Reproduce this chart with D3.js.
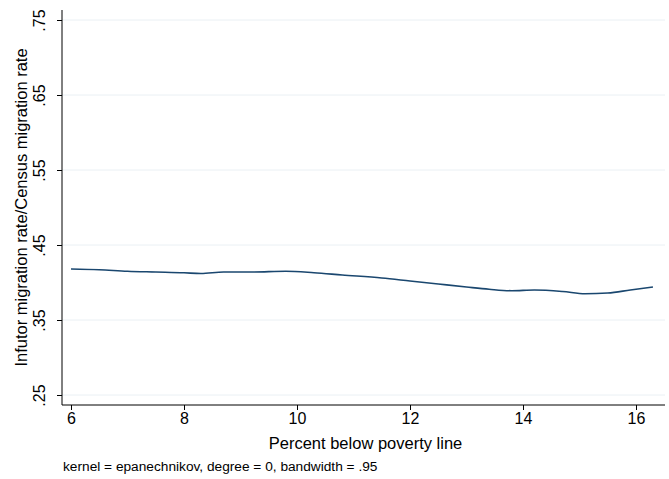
<!DOCTYPE html>
<html><head><meta charset="utf-8">
<script src="https://cdn.jsdelivr.net/npm/d3@7"></script>
<style>body{margin:0;background:#fff;font-family:"Liberation Sans",Arial,sans-serif}</style>
</head><body><div id="chart"></div>
<script>
var xVals = [6, 6.5, 7, 7.5, 8, 8.3, 8.7, 9.2, 9.8, 10.3, 10.8, 11.5, 12, 12.5, 13, 13.4, 13.8, 14.2, 14.7, 15.1, 15.5, 15.9, 16.3];
var yVals = [.418, .417, .415, .414, .413, .412, .414, .414, .415, .413, .410, .406, .402, .398, .394, .391, .389, .390, .388, .385, .386, .390, .394];
var xTicks = [6, 8, 10, 12, 14, 16];
var yTicks = [.25, .35, .45, .55, .65, .75];

var svgW = 669, svgH = 479;
var margin = {top: 10, right: 4, bottom: 74, left: 62};

var svg = d3.select("#chart").append("svg").attr("width", svgW).attr("height", svgH);

var x = d3.scaleLinear().domain([6, 16]).range([71, 636]);
var y = d3.scaleLinear().domain([.25, .75]).range([395, 20]);

// gridlines
svg.append("g").selectAll("line").data(yTicks).enter().append("line")
  .attr("x1", margin.left).attr("x2", svgW - margin.right)
  .attr("y1", d => y(d)).attr("y2", d => y(d))
  .attr("stroke", "#eaf0f4").attr("stroke-width", 1);

var yAxis = svg.append("g").attr("transform", `translate(${margin.left},0)`)
  .call(d3.axisLeft(y).tickValues(yTicks).tickFormat(d => d3.format(".2f")(d).replace(/^0/, "")).tickSize(5).tickSizeOuter(0));
yAxis.select(".domain").attr("d", `M0,${svgH - margin.bottom}V${margin.top}`);
yAxis.selectAll("text").attr("transform", "rotate(-90)").attr("text-anchor", "middle")
  .attr("x", 0).attr("y", -17).attr("dy", "0").attr("font-size", 16).attr("fill", "#000")
  .attr("font-family", "Liberation Sans, Arial, sans-serif");

var xAxis = svg.append("g").attr("transform", `translate(0,${svgH - margin.bottom})`)
  .call(d3.axisBottom(x).tickValues(xTicks).tickSize(5).tickSizeOuter(0));
xAxis.select(".domain").attr("d", `M${margin.left},0H${svgW - margin.right}`);
xAxis.selectAll("text").attr("font-size", 16).attr("fill", "#000").attr("y", 8)
  .attr("font-family", "Liberation Sans, Arial, sans-serif");

svg.append("path").datum(xVals.map((v, i) => [v, yVals[i]]))
  .attr("d", d3.line().x(d => x(d[0])).y(d => y(d[1])).curve(d3.curveMonotoneX))
  .attr("fill", "none").attr("stroke", "#1a476f").attr("stroke-width", 1.6);

svg.append("text").attr("x", (margin.left + svgW) / 2).attr("y", 449)
  .attr("text-anchor", "middle").attr("font-size", 16.5).text("Percent below poverty line");
svg.append("text").attr("transform", `translate(27,${(margin.top + svgH - margin.bottom) / 2}) rotate(-90)`)
  .attr("text-anchor", "middle").attr("font-size", 16.5).text("Infutor migration rate/Census migration rate");
svg.append("text").attr("x", 63).attr("y", 471).attr("font-size", 13.7)
  .text("kernel = epanechnikov, degree = 0, bandwidth = .95");
</script></body></html>
